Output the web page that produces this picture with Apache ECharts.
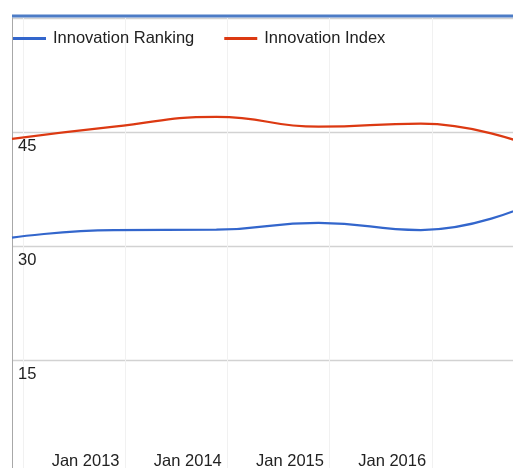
<!DOCTYPE html>
<html>
<head>
<meta charset="utf-8">
<script src="https://cdn.jsdelivr.net/npm/echarts@6/dist/echarts.min.js"></script>
<style>
  html, body { margin: 0; padding: 0; background: #fff; }
  #chart { width: 513px; height: 468px; }
</style>
</head>
<body>
<div id="chart"></div>
<script>
// data points, x as decimal years (one reading per year)
const periods = [2012.28, 2013.28, 2014.28, 2015.28, 2016.28, 2017.28]
const innovationRanking = [31.1, 32.1, 32.15, 33.05, 32.1, 35.1]
const innovationIndex = [44.1, 45.7, 47.0, 45.7, 46.1, 43.55]
const yearLabels = [2013, 2014, 2015, 2016]
const valueLabels = [15, 30, 45]

const fontFamily = '"Liberation Sans", Arial, sans-serif'
const textColor = '#222'

const chart = echarts.init(document.getElementById('chart'), null, { renderer: 'canvas' })

const xMin = periods[0]
const xMax = periods[periods.length - 1]
// vertical gridlines sit a bit after each data point
const gridShift = 0.388

const option = {
    animation: false,
    color: ['#3366cc', '#dc3912'],
    grid: {
        left: 12,
        top: 18,
        width: 511,
        height: 456,
        containLabel: false,
        outerBoundsMode: 'none'
    },
    legend: {
        left: 13,
        top: 30,
        padding: 0,
        icon: 'rect',
        itemWidth: 33,
        itemHeight: 3,
        itemGap: 30,
        textStyle: {
            fontFamily: fontFamily,
            fontSize: 16.5,
            color: textColor,
            padding: [0, 0, 0, 2]
        },
        data: ['Innovation Ranking', 'Innovation Index']
    },
    xAxis: [
        {
            type: 'value',
            position: 'bottom',
            min: xMin,
            max: xMax,
            axisLine: { show: false },
            axisTick: { show: false },
            splitLine: { show: false },
            axisLabel: {
                inside: true,
                margin: 4,
                fontFamily: fontFamily,
                fontSize: 16.5,
                color: textColor,
                showMinLabel: false,
                showMaxLabel: false,
                formatter: function (v) {
                    const y = Math.round(v)
                    if (Math.abs(v - y) > 1e-6) return ''
                    return yearLabels.indexOf(y) >= 0 ? 'Jan ' + y : ''
                }
            }
        },
        {
            type: 'value',
            position: 'top',
            min: xMin - gridShift,
            max: xMax - gridShift,
            axisLine: { show: false },
            axisTick: { show: false },
            axisLabel: { show: false },
            splitLine: { show: true, lineStyle: { color: '#f1f1f1', width: 1 } }
        }
    ],
    yAxis: {
        type: 'value',
        min: 0,
        max: 60,
        interval: 15,
        axisLine: { show: true, lineStyle: { color: '#a8a8a8', width: 1 } },
        axisTick: { show: false },
        splitLine: { show: true, lineStyle: { color: '#d2d2d2', width: 1.3 } },
        axisLabel: {
            inside: true,
            margin: 6,
            verticalAlign: 'top',
            padding: [6, 0, 0, 0],
            fontFamily: fontFamily,
            fontSize: 16.5,
            color: textColor,
            formatter: function (v) {
                return valueLabels.indexOf(v) >= 0 ? String(v) : ''
            }
        }
    },
    graphic: [
        {
            type: 'rect',
            left: 12,
            top: 14.5,
            shape: { width: 501, height: 3 },
            style: { fill: '#4d7cc6' },
            z: 100
        }
    ],
    series: [
        {
            name: 'Innovation Ranking',
            type: 'line',
            xAxisIndex: 0,
            smooth: 0.5,
            symbol: 'none',
            lineStyle: { width: 2.2 },
            data: periods.map((p, i) => [p, innovationRanking[i]])
        },
        {
            name: 'Innovation Index',
            type: 'line',
            xAxisIndex: 0,
            smooth: 0.5,
            symbol: 'none',
            lineStyle: { width: 2.2 },
            data: periods.map((p, i) => [p, innovationIndex[i]])
        }
    ]
}

chart.setOption(option)
</script>
</body>
</html>
